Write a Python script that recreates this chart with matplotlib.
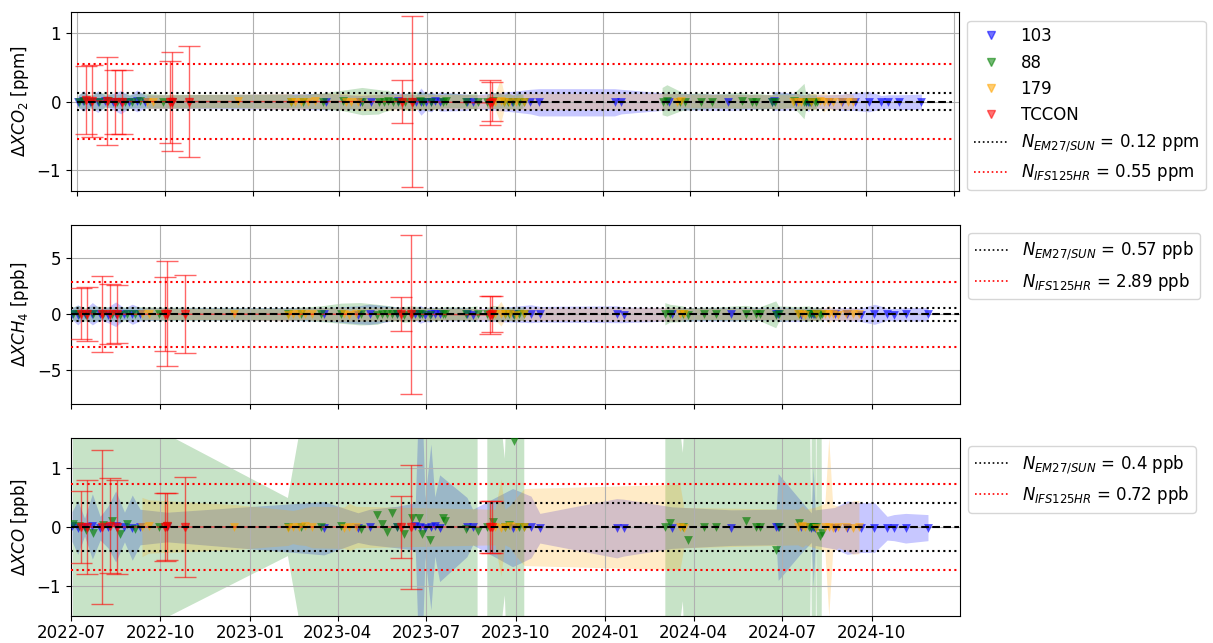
import matplotlib
matplotlib.use("Agg")
import matplotlib.pyplot as plt
import matplotlib.dates as mdates
from matplotlib.lines import Line2D
import numpy as np
import pandas as pd

nan = np.nan

# ---- EM27/SUN 103 ----
dates_103 = ['2022-07-02', '2022-07-08', '2022-07-15', '2022-07-23', '2022-07-31', '2022-08-08',
             '2022-08-16', '2022-08-25', '2022-09-02', '2022-09-10', '2022-10-08',
             '2023-03-18', '2023-04-22', '2023-05-04', '2023-06-01', '2023-06-20', '2023-06-25',
             '2023-06-30', '2023-07-06', '2023-07-10', '2023-07-15', '2023-08-12', '2023-08-18',
             '2023-09-28', '2023-10-17', '2023-10-26',
             '2024-01-13', '2024-01-20', '2024-03-10', '2024-05-10', '2024-06-25', '2024-06-27',
             '2024-07-20', '2024-07-31', '2024-08-02', '2024-08-04', '2024-08-24', '2024-09-06',
             '2024-09-20', '2024-10-04', '2024-10-17', '2024-10-24', '2024-11-05', '2024-11-28']
co2_103 = [0.0, 0.01, -0.01, 0.0, 0.01, 0.0, -0.01, 0.0, 0.01, 0.0, 0.0,
           0.0, -0.01, 0.0, 0.01, 0.0, 0.0, -0.01, 0.0, 0.01, 0.0, -0.01, 0.0, 0.0, 0.0, -0.01,
           -0.01, 0.0, 0.0, -0.01, 0.0, 0.01, 0.0, 0.0, -0.01, 0.0, 0.0, -0.01, 0.0, 0.0, -0.01, 0.0, -0.01, 0.0]
co2_err_103 = [0.08, 0.15, 0.07, 0.16, 0.08, 0.12, 0.17, 0.09, 0.16, 0.1, 0.1,
               0.12, 0.1, 0.1, 0.12, 0.1, 0.2, 0.12, 0.15, 0.1, 0.14, 0.12, 0.1, 0.15, 0.18, 0.2,
               0.2, 0.18, 0.12, 0.12, 0.1, 0.14, 0.12, 0.1, 0.14, 0.1, 0.1, 0.12, 0.13, 0.15, 0.1, 0.1, 0.11, 0.11]
ch4_103 = [0.05, -0.05, 0.0, 0.05, 0.0, -0.05, 0.0, 0.05, 0.0, 0.0, 0.05,
           0.0, -0.05, 0.0, 0.05, 0.0, 0.0, -0.05, 0.0, 0.05, 0.0, 0.0, -0.05, 0.0, 0.05, 0.0,
           0.0, -0.05, 0.0, 0.0, 0.05, 0.0, -0.05, 0.0, 0.0, 0.05, 0.0, 0.0, -0.05, 0.0, 0.0, -0.05, 0.0, 0.0]
ch4_err_103 = [0.5, 0.9, 0.4, 1.0, 0.5, 0.7, 1.1, 0.5, 0.9, 0.6, 0.55,
               0.6, 0.8, 0.9, 0.6, 0.55, 0.8, 0.6, 0.7, 0.55, 0.6, 0.6, 0.55, 0.7, 0.8, 0.7,
               0.75, 0.7, 0.6, 0.6, 0.55, 0.65, 0.6, 0.55, 0.6, 0.55, 0.55, 0.6, 0.6, 0.9, 0.55, 0.55, 0.6, 0.6]
co_103 = [0.01, -0.01, 0.0, 0.01, -0.02, 0.0, 0.01, 0.0, -0.01, 0.0, 0.0,
          -0.02, -0.01, 0.0, 0.0, 0.01, 0.0, -0.01, 0.0, 0.01, -0.02, 0.0, 0.0, -0.01, 0.0, -0.02,
          -0.02, -0.01, -0.01, -0.01, 0.0, 0.0, 0.0, -0.01, 0.0, -0.01, -0.02, -0.01, -0.01, -0.01, -0.02, -0.01, -0.02, -0.01]
co_err_103 = [0.25, 0.45, 0.15, 0.55, 0.2, 0.35, 0.6, 0.25, 0.55, 0.3, 0.25,
              0.45, 0.25, 0.3, 0.35, 0.4, 3.0, 0.5, 1.4, 0.5, 0.9, 0.5, 0.3, 0.66, 0.52, 0.25,
              0.5, 0.48, 0.35, 0.3, 0.3, 0.9, 0.45, 0.25, 1.0, 0.3, 0.35, 0.45, 0.42, 0.42, 0.2, 0.22, 0.25, 0.22]

# ---- EM27/SUN 88 (nan rows = gaps in the record) ----
dates_88 = ['2022-07-03', '2022-07-09', '2022-07-16', '2022-07-24', '2022-08-03', '2022-08-12',
            '2022-08-20', '2022-08-28', '2022-09-05', '2022-09-29', '2022-10-08',
            '2023-02-09',
            '2023-02-22', '2023-03-15', '2023-04-05', '2023-04-25', '2023-05-12', '2023-05-17',
            '2023-05-22', '2023-05-27', '2023-06-01', '2023-06-08', '2023-06-17', '2023-06-24',
            '2023-06-27', '2023-07-05', '2023-07-18', '2023-07-21', '2023-08-11', '2023-08-23',
            '2023-08-28',
            '2023-09-02', '2023-09-08', '2023-09-20', '2023-09-24', '2023-09-29', '2023-10-05', '2023-10-10',
            '2023-12-15',
            '2024-03-03', '2024-03-08', '2024-03-21', '2024-03-26', '2024-04-12', '2024-04-24',
            '2024-05-25', '2024-06-04', '2024-06-08', '2024-06-25', '2024-06-28', '2024-07-18',
            '2024-07-29', '2024-07-31', '2024-08-03', '2024-08-05', '2024-08-09', '2024-08-11']
co2_88 = [0.0, 0.01, -0.01, 0.0, 0.01, 0.0, -0.01, 0.0, 0.01, 0.0, 0.0,
          0.0,
          0.0, 0.0, 0.01, 0.0, -0.01, 0.0, 0.01, 0.0, 0.0, -0.01, 0.0, 0.01, 0.0, -0.01, 0.0, 0.01, 0.0, 0.0,
          nan,
          0.0, 0.01, 0.0, 0.0, -0.01, 0.0, 0.0,
          nan,
          0.0, 0.01, 0.0, -0.01, 0.0, 0.0, 0.01, 0.0, 0.0, -0.01, 0.0, 0.01, 0.0, 0.0, 0.0, 0.0, -0.01, 0.0]
co2_err_88 = [0.1, 0.12, 0.1, 0.13, 0.1, 0.1, 0.12, 0.1, 0.11, 0.1, 0.1,
              0.1,
              0.1, 0.12, 0.15, 0.2, 0.18, 0.16, 0.15, 0.12, 0.1, 0.12, 0.14, 0.12, 0.13, 0.12, 0.1, 0.11, 0.1, 0.12,
              nan,
              0.1, 0.12, 0.1, 0.12, 0.1, 0.12, 0.1,
              nan,
              0.2, 0.23, 0.15, 0.12, 0.12, 0.1, 0.12, 0.1, 0.12, 0.1, 0.12, 0.1, 0.26, 0.1, 0.12, 0.1, 0.12, 0.1]
ch4_88 = [0.0, 0.05, -0.05, 0.0, 0.05, 0.0, -0.05, 0.0, 0.05, 0.0, 0.0,
          0.0,
          0.0, 0.0, 0.05, 0.0, -0.05, 0.0, 0.05, 0.0, 0.0, -0.05, 0.0, 0.05, 0.0, -0.05, 0.0, 0.05, 0.0, 0.0,
          nan,
          0.0, 0.05, 0.0, 0.0, -0.05, 0.0, 0.0,
          nan,
          0.0, 0.05, 0.0, -0.05, 0.0, 0.0, 0.05, 0.0, 0.0, -0.05, 0.0, 0.05, 0.0, 0.0, 0.0, 0.0, -0.05, 0.0]
ch4_err_88 = [0.6, 0.7, 0.6, 0.7, 0.6, 0.6, 0.7, 0.6, 0.6, 0.6, 0.6,
              0.55,
              0.6, 0.7, 0.9, 1.0, 0.9, 0.8, 0.7, 0.7, 0.6, 0.7, 0.7, 0.6, 0.6, 0.6, 0.6, 0.6, 0.6, 0.7,
              nan,
              0.6, 0.7, 0.6, 0.6, 0.6, 0.6, 0.6,
              nan,
              1.0, 0.8, 0.7, 0.6, 0.6, 0.6, 0.7, 0.6, 0.6, 1.2, 0.7, 0.6, 0.7, 0.6, 0.6, 0.6, 0.6, 0.6]
co_88 = [0.05, 0.02, -0.05, -0.1, 0.03, 0.1, -0.11, 0.05, -0.03, 0.0, 0.02,
         0.0,
         0.0, 0.0, 0.02, -0.03, 0.2, 0.05, -0.08, 0.24, 0.0, -0.11, 0.15, 0.15, -0.11, -0.22, 0.16, 0.1, -0.04, -0.06,
         nan,
         0.0, 0.09, 0.0, 0.03, 1.45, 0.0, 0.0,
         nan,
         0.0, 0.07, 0.0, -0.22, 0.0, 0.0, 0.1, 0.0, 0.0, -0.38, 0.0, 0.07, 0.0, 0.0, 0.0, 0.0, -0.15, -0.1]
co_err_88 = [3, 3, 3, 3, 3, 3, 3, 3, 3, 3, 1.54,
             0.49,
             1.7, 3, 3, 3, 3, 3, 3, 3, 3, 3, 3, 3, 3, 3, 3, 3, 3, 3,
             nan,
             3, 3, 1.15, 3, 3, 3, 3,
             nan,
             3, 3, 1.25, 3, 3, 3, 3, 3, 3, 3, 3, 3, 3, 0.15, 10, 0.15, 10, 0.15]

# ---- EM27/SUN 179 ----
dates_179 = ['2022-09-12', '2022-09-19', '2022-12-16', '2023-02-09', '2023-02-14', '2023-02-20',
             '2023-02-27', '2023-03-06', '2023-04-08', '2023-04-13', '2023-04-20',
             '2023-09-10', '2023-09-16', '2023-09-20', '2023-09-25', '2023-10-02', '2023-10-10',
             '2024-03-18', '2024-03-22',
             '2024-07-17', '2024-07-22', '2024-07-25', '2024-08-05', '2024-08-14', '2024-08-18',
             '2024-08-22', '2024-08-28', '2024-09-05', '2024-09-12', '2024-09-18']
co2_179 = [0.0, 0.0, 0.01, 0.0, -0.01, 0.0, 0.0, 0.01, 0.0, 0.0, -0.01,
           0.0, 0.01, 0.0, 0.0, -0.01, 0.0,
           0.0, 0.01,
           0.0, 0.0, -0.01, 0.0, 0.01, 0.0, 0.0, -0.01, 0.0, 0.0, 0.0]
co2_err_179 = [0.1, 0.1, 0.1, 0.12, 0.1, 0.12, 0.1, 0.11, 0.12, 0.1, 0.12,
               0.1, 0.33, 0.1, 0.12, 0.1, 0.12,
               0.12, 0.1,
               0.1, 0.12, 0.1, 0.12, 0.1, 0.15, 0.1, 0.12, 0.1, 0.12, 0.1]
ch4_179 = [0.0, 0.05, 0.0, -0.05, 0.0, 0.0, 0.05, 0.0, 0.0, -0.05, 0.0,
           0.0, 0.05, 0.0, 0.0, -0.05, 0.0,
           0.0, 0.05,
           0.0, 0.0, -0.05, 0.0, 0.05, 0.0, 0.0, -0.05, 0.0, 0.0, 0.0]
ch4_err_179 = [0.55, 0.5, 0.5, 0.55, 0.5, 0.55, 0.5, 0.55, 0.6, 0.55, 0.6,
               0.5, 1.1, 0.5, 0.55, 0.5, 0.55,
               0.6, 0.5,
               0.5, 0.55, 0.5, 0.55, 0.5, 0.8, 0.5, 0.55, 0.5, 0.55, 0.5]
co_179 = [0.0, 0.01, 0.0, -0.01, 0.0, 0.0, 0.01, 0.0, -0.01, 0.0, 0.0,
          0.0, -0.01, 0.0, 0.01, 0.0, 0.0,
          0.0, -0.01,
          0.0, 0.01, 0.0, -0.01, 0.0, 0.0, -0.02, 0.0, 0.0, -0.01, 0.0]
co_err_179 = [0.5, 0.45, 0.38, 0.3, 0.28, 0.3, 0.32, 0.35, 0.35, 0.4, 0.35,
              0.3, 0.82, 0.3, 0.35, 0.5, 0.65,
              0.72, 0.34,
              0.3, 0.35, 0.3, 0.35, 0.4, 1.5, 0.4, 0.35, 0.4, 0.45, 0.45]

# ---- TCCON (IFS125HR) ----
dates_tccon = ['2022-07-11', '2022-07-17', '2022-08-02', '2022-08-10', '2022-08-17', '2022-10-06',
               '2022-10-08', '2022-10-26', '2023-06-05', '2023-06-16', '2023-09-05', '2023-09-07']
co2_tccon = [0.02, 0.01, 0.01, 0.0, 0.0, 0.0, 0.0, 0.0, 0.0, 0.0, -0.02, 0.0]
co2_err_tccon = [0.5, 0.53, 0.64, 0.47, 0.47, 0.6, 0.73, 0.81, 0.31, 1.25, 0.33, 0.28]
ch4_tccon = [0.05, 0.05, 0.0, 0.0, 0.0, 0.0, 0.05, 0.0, 0.0, 0.0, -0.05, 0.0]
ch4_err_tccon = [2.3, 2.4, 3.4, 2.7, 2.6, 3.3, 4.7, 3.5, 1.5, 7.1, 1.7, 1.6]
co_tccon = [0.0, 0.0, 0.0, 0.02, 0.0, 0.0, 0.01, 0.0, 0.0, 0.0, 0.0, 0.0]
co_err_tccon = [0.61, 0.8, 1.3, 0.8, 0.8, 0.58, 0.56, 0.85, 0.53, 1.05, 0.44, 0.44]

# noise levels
n_em27 = {'co2': 0.12, 'ch4': 0.57, 'co': 0.4}
n_ifs = {'co2': 0.55, 'ch4': 2.89, 'co': 0.72}
units = {'co2': 'ppm', 'ch4': 'ppb', 'co': 'ppb'}
ylabels = {'co2': r'$\Delta XCO_2$ [ppm]', 'ch4': r'$\Delta XCH_4$ [ppb]', 'co': r'$\Delta XCO$ [ppb]'}
ylims = {'co2': (-1.31, 1.31), 'ch4': (-8.0, 8.0), 'co': (-1.5, 1.5)}

instruments = [
    ('103', 'blue', dates_103, {'co2': (co2_103, co2_err_103), 'ch4': (ch4_103, ch4_err_103), 'co': (co_103, co_err_103)}),
    ('88', 'green', dates_88, {'co2': (co2_88, co2_err_88), 'ch4': (ch4_88, ch4_err_88), 'co': (co_88, co_err_88)}),
    ('179', 'orange', dates_179, {'co2': (co2_179, co2_err_179), 'ch4': (ch4_179, ch4_err_179), 'co': (co_179, co_err_179)}),
]
tccon = {'co2': (co2_tccon, co2_err_tccon), 'ch4': (ch4_tccon, ch4_err_tccon), 'co': (co_tccon, co_err_tccon)}

plt.rcParams['font.size'] = 12
line_start = pd.Timestamp('2022-07-01')
line_end = pd.Timestamp('2024-12-30')


def draw_panel(ax, gas):
    for name, color, dates, data in instruments:
        d = pd.to_datetime(dates)
        y = np.array(data[gas][0], dtype=float)
        e = np.array(data[gas][1], dtype=float)
        ax.fill_between(d, y - e, y + e, color=color, alpha=0.22, lw=0)
        ax.scatter(d, y, marker='v', color=color, s=40, alpha=0.65, lw=0, zorder=3)

    d = pd.to_datetime(dates_tccon)
    y, e = tccon[gas]
    ax.errorbar(d, y, yerr=e, fmt='v-', color='red', alpha=0.6, capsize=8,
                markersize=6, lw=1, zorder=4)

    ax.hlines(0, line_start, line_end, colors='k', linestyles='--', lw=1.5, zorder=5)
    for s in (1, -1):
        ax.hlines(s * n_em27[gas], line_start, line_end, colors='k', linestyles=':', lw=1.5, zorder=5)
        ax.hlines(s * n_ifs[gas], line_start, line_end, colors='red', linestyles=':', lw=1.5, zorder=5)

    ax.set_ylim(*ylims[gas])
    ax.set_ylabel(ylabels[gas])
    ax.grid(True, color='#b0b0b0', lw=0.8)
    ax.xaxis.set_major_locator(mdates.MonthLocator(bymonth=[1, 4, 7, 10]))
    ax.xaxis.set_major_formatter(mdates.DateFormatter('%Y-%m'))


fig = plt.figure(figsize=(12.13, 6.43), dpi=100)
ax1 = fig.add_axes([0.0585, 0.703, 0.732, 0.278])
ax2 = fig.add_axes([0.0585, 0.372, 0.733, 0.2785])
ax3 = fig.add_axes([0.0585, 0.042, 0.733, 0.2767])

for ax, gas in zip((ax1, ax2, ax3), ('co2', 'ch4', 'co')):
    draw_panel(ax, gas)
    line_handles = [
        Line2D([], [], color='k', ls=':', lw=1.2, label=r'$N_{EM27/SUN}$ = ' + f'{n_em27[gas]} {units[gas]}'),
        Line2D([], [], color='red', ls=':', lw=1.2, label=r'$N_{IFS125HR}$ = ' + f'{n_ifs[gas]} {units[gas]}'),
    ]
    if gas == 'co2':
        marker_handles = [Line2D([], [], ls='', marker='v', color=c, alpha=0.55, markersize=6, label=n)
                          for n, c in (('103', 'blue'), ('88', 'green'), ('179', 'orange'), ('TCCON', 'red'))]
        handles = marker_handles + line_handles
    else:
        handles = line_handles
    ax.legend(handles=handles, loc='upper left', bbox_to_anchor=(1.0, 1.0), fontsize=12)

ax1.set_xlim(pd.Timestamp('2022-06-25'), pd.Timestamp('2025-01-06'))
for ax in (ax2, ax3):
    ax.set_xlim(pd.Timestamp('2022-07-01'), pd.Timestamp('2024-12-31'))
for ax in (ax1, ax2):
    ax.tick_params(labelbottom=False)
ax3.tick_params(axis='x', pad=2)

fig.savefig('out.png', dpi=100)
plt.close('all')
